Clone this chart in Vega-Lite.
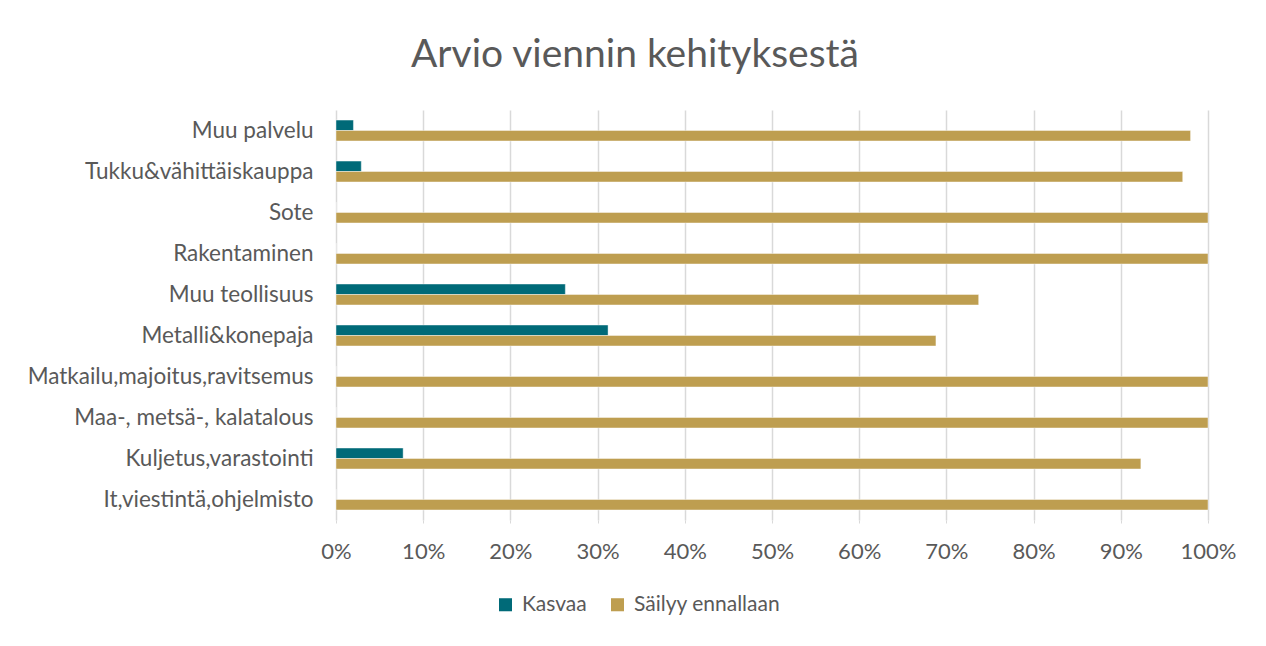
{
  "$schema": "https://vega.github.io/schema/vega-lite/v6.json",
  "width": 872,
  "height": 410,
  "autosize": {"type": "none"},
  "padding": {"left": 336, "top": 110, "right": 58, "bottom": 126},
  "background": "white",
  "title": {
    "text": "Arvio viennin kehityksestä",
    "font": "Lato",
    "fontSize": 39,
    "fontWeight": "normal",
    "color": "#595959",
    "anchor": "middle",
    "dx": -137,
    "offset": 35
  },
  "data": {
    "values": [
      {"toimiala": "Muu palvelu", "arvio": "Kasvaa", "osuus": 0.02},
      {"toimiala": "Muu palvelu", "arvio": "Säilyy ennallaan", "osuus": 0.98},
      {"toimiala": "Tukku&vähittäiskauppa", "arvio": "Kasvaa", "osuus": 0.029},
      {"toimiala": "Tukku&vähittäiskauppa", "arvio": "Säilyy ennallaan", "osuus": 0.971},
      {"toimiala": "Sote", "arvio": "Kasvaa", "osuus": 0},
      {"toimiala": "Sote", "arvio": "Säilyy ennallaan", "osuus": 1.0},
      {"toimiala": "Rakentaminen", "arvio": "Kasvaa", "osuus": 0},
      {"toimiala": "Rakentaminen", "arvio": "Säilyy ennallaan", "osuus": 1.0},
      {"toimiala": "Muu teollisuus", "arvio": "Kasvaa", "osuus": 0.263},
      {"toimiala": "Muu teollisuus", "arvio": "Säilyy ennallaan", "osuus": 0.737},
      {"toimiala": "Metalli&konepaja", "arvio": "Kasvaa", "osuus": 0.312},
      {"toimiala": "Metalli&konepaja", "arvio": "Säilyy ennallaan", "osuus": 0.688},
      {"toimiala": "Matkailu,majoitus,ravitsemus", "arvio": "Kasvaa", "osuus": 0},
      {"toimiala": "Matkailu,majoitus,ravitsemus", "arvio": "Säilyy ennallaan", "osuus": 1.0},
      {"toimiala": "Maa-, metsä-, kalatalous", "arvio": "Kasvaa", "osuus": 0},
      {"toimiala": "Maa-, metsä-, kalatalous", "arvio": "Säilyy ennallaan", "osuus": 1.0},
      {"toimiala": "Kuljetus,varastointi", "arvio": "Kasvaa", "osuus": 0.077},
      {"toimiala": "Kuljetus,varastointi", "arvio": "Säilyy ennallaan", "osuus": 0.923},
      {"toimiala": "It,viestintä,ohjelmisto", "arvio": "Kasvaa", "osuus": 0},
      {"toimiala": "It,viestintä,ohjelmisto", "arvio": "Säilyy ennallaan", "osuus": 1.0}
    ]
  },
  "mark": {"type": "bar", "stroke": "white", "strokeOpacity": 0.6, "strokeWidth": 0.7},
  "encoding": {
    "y": {
      "field": "toimiala",
      "type": "nominal",
      "sort": null,
      "scale": {"paddingInner": 0.49, "paddingOuter": 0.245},
      "axis": {
        "title": null,
        "ticks": false,
        "domain": false,
        "grid": false,
        "labelFont": "Lato",
        "labelFontSize": 22.5,
        "labelColor": "#595959",
        "labelPadding": 23,
        "labelLimit": 400
      }
    },
    "yOffset": {
      "field": "arvio",
      "type": "nominal",
      "sort": ["Kasvaa", "Säilyy ennallaan"],
      "scale": {"paddingInner": 0, "paddingOuter": 0}
    },
    "x": {
      "field": "osuus",
      "type": "quantitative",
      "scale": {"domain": [0, 1], "nice": false},
      "axis": {
        "title": null,
        "format": ".0%",
        "values": [0, 0.1, 0.2, 0.3, 0.4, 0.5, 0.6, 0.7, 0.8, 0.9, 1.0],
        "grid": true,
        "gridColor": "#D9D9D9",
        "gridWidth": 1.5,
        "ticks": true,
        "tickColor": "#D9D9D9",
        "tickSize": 3,
        "domain": false,
        "labelFlush": false,
        "labelBound": false,
        "labelOverlap": false,
        "labelFont": "Lato",
        "labelFontSize": 22,
        "labelColor": "#595959",
        "labelPadding": 18
      }
    },
    "color": {
      "field": "arvio",
      "type": "nominal",
      "sort": ["Kasvaa", "Säilyy ennallaan"],
      "scale": {"domain": ["Kasvaa", "Säilyy ennallaan"], "range": ["#006A78", "#BE9E50"]},
      "legend": {
        "title": null,
        "orient": "none",
        "direction": "horizontal",
        "legendX": 159,
        "legendY": 484,
        "symbolType": "square",
        "symbolSize": 170,
        "symbolStrokeWidth": 0,
        "labelFont": "Lato",
        "labelFontSize": 21,
        "labelColor": "#595959",
        "labelOffset": 6,
        "columnPadding": 20
      }
    }
  },
  "config": {
    "view": {"stroke": null}
  }
}
